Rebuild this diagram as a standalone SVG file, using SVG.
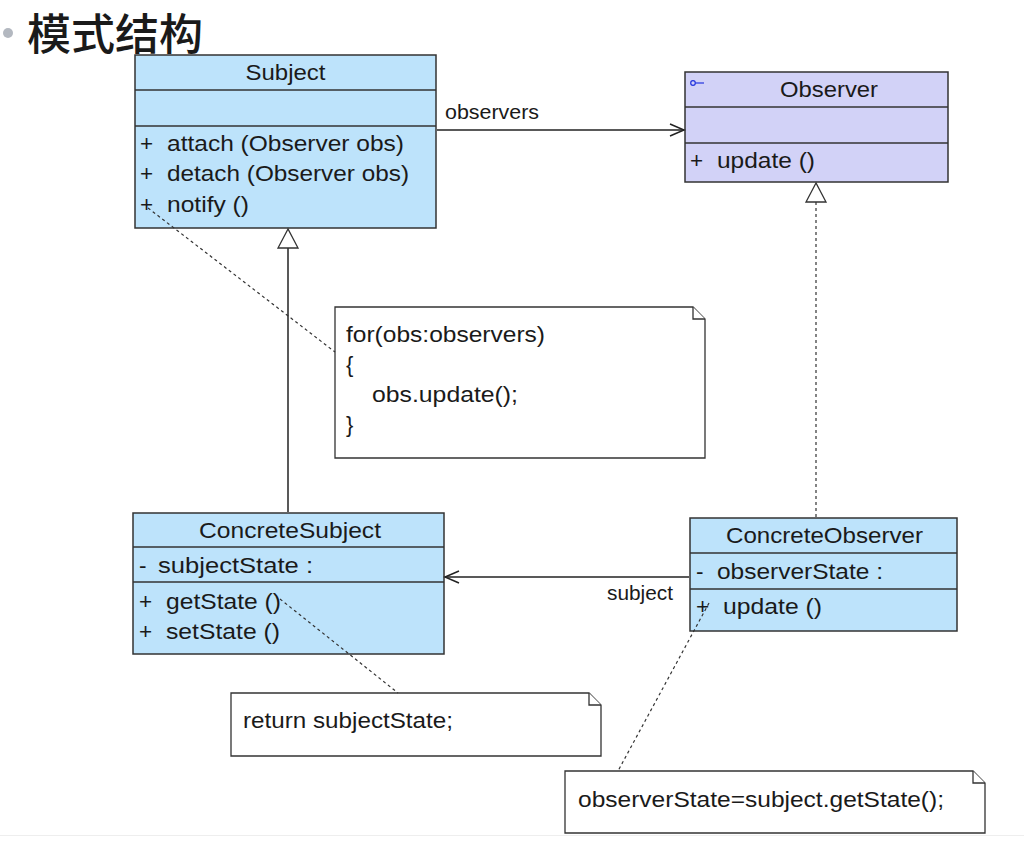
<svg xmlns="http://www.w3.org/2000/svg" width="1024" height="849" viewBox="0 0 1024 849">
<style>
.cls{fill:#bde3fb;stroke:#333;stroke-width:1.5}
.ifc{fill:#d2d2f7;stroke:#333;stroke-width:1.5}
.div{stroke:#333;stroke-width:1.5}
.note{fill:#fff;stroke:#333;stroke-width:1.3}
.t{font-family:"Liberation Sans",Arial,sans-serif;font-size:22.5px;fill:#1a1a1a}
.c{text-anchor:middle}
.lbl{font-family:"Liberation Sans",Arial,sans-serif;font-size:20.5px;fill:#1a1a1a}
.nt{font-family:"Liberation Sans",Arial,sans-serif;font-size:22px;fill:#1a1a1a}
.ln{stroke:#222;stroke-width:1.5;fill:none}
.dash{stroke:#333;stroke-width:1.2;fill:none;stroke-dasharray:3 3}
.tri{fill:#fff;stroke:#333;stroke-width:1.3}
</style>
<rect width="1024" height="849" fill="#fff"/>
<line x1="0" y1="835.5" x2="1024" y2="835.5" stroke="#eeeeee" stroke-width="1"/>
<g id="title">
<circle cx="8" cy="33" r="5" fill="#b3b8c0"/>
<text x="27" y="50" font-family="'Noto Sans CJK SC',sans-serif" font-size="43" font-weight="500" fill="#1a1a1a" textLength="176" lengthAdjust="spacingAndGlyphs">模式结构</text>
</g>
<g id="Subject">
<rect class="cls" x="135" y="55" width="301" height="173"/>
<line class="div" x1="135" y1="90" x2="436" y2="90"/>
<line class="div" x1="135" y1="126" x2="436" y2="126"/>
<text class="t c" x="285.5" y="80" textLength="80" lengthAdjust="spacingAndGlyphs">Subject</text>
<text class="t" x="140" y="151">+</text><text class="t" x="167" y="151" textLength="237" lengthAdjust="spacingAndGlyphs">attach (Observer obs)</text>
<text class="t" x="140" y="181">+</text><text class="t" x="167" y="181" textLength="242" lengthAdjust="spacingAndGlyphs">detach (Observer obs)</text>
<text class="t" x="140" y="212">+</text><text class="t" x="167" y="212" textLength="82" lengthAdjust="spacingAndGlyphs">notify ()</text>
</g>
<g id="Observer">
<rect class="ifc" x="685" y="72" width="263" height="110"/>
<line class="div" x1="685" y1="107" x2="948" y2="107"/>
<line class="div" x1="685" y1="143" x2="948" y2="143"/>
<circle cx="693" cy="83" r="2.3" fill="none" stroke="#2233dd" stroke-width="1.2"/>
<line x1="695.3" y1="83" x2="704" y2="83" stroke="#2233dd" stroke-width="1.2"/>
<text class="t c" x="829" y="97" textLength="98" lengthAdjust="spacingAndGlyphs">Observer</text>
<text class="t" x="690" y="168">+</text><text class="t" x="717" y="168" textLength="98" lengthAdjust="spacingAndGlyphs">update ()</text>
</g>
<g id="note1">
<path class="note" d="M335 307 H693 L705 319 V458 H335 Z"/>
<path class="note" d="M693 307 V319 H705"/>
<text class="nt" x="346" y="342" textLength="199" lengthAdjust="spacingAndGlyphs">for(obs:observers)</text>
<text class="nt" x="346" y="372">{</text>
<text class="nt" x="372" y="402" textLength="146" lengthAdjust="spacingAndGlyphs">obs.update();</text>
<text class="nt" x="346" y="432">}</text>
</g>
<g id="ConcreteSubject">
<rect class="cls" x="133" y="513" width="311" height="141"/>
<line class="div" x1="133" y1="547" x2="444" y2="547"/>
<line class="div" x1="133" y1="582" x2="444" y2="582"/>
<text class="t c" x="290" y="538" textLength="182" lengthAdjust="spacingAndGlyphs">ConcreteSubject</text>
<text class="t" x="139" y="573">-</text><text class="t" x="158" y="573" textLength="155" lengthAdjust="spacingAndGlyphs">subjectState  :</text>
<text class="t" x="139" y="609">+</text><text class="t" x="166" y="609" textLength="115" lengthAdjust="spacingAndGlyphs">getState ()</text>
<text class="t" x="139" y="639">+</text><text class="t" x="166" y="639" textLength="114" lengthAdjust="spacingAndGlyphs">setState ()</text>
</g>
<g id="ConcreteObserver">
<rect class="cls" x="690" y="518" width="267" height="113"/>
<line class="div" x1="690" y1="553" x2="957" y2="553"/>
<line class="div" x1="690" y1="589" x2="957" y2="589"/>
<text class="t c" x="824.5" y="543" textLength="197" lengthAdjust="spacingAndGlyphs">ConcreteObserver</text>
<text class="t" x="696" y="579">-</text><text class="t" x="717" y="579" textLength="166" lengthAdjust="spacingAndGlyphs">observerState  :</text>
<text class="t" x="696" y="614">+</text><text class="t" x="723" y="614" textLength="99" lengthAdjust="spacingAndGlyphs">update ()</text>
</g>
<g id="note2">
<path class="note" d="M231 693 H589 L601 705 V756 H231 Z"/>
<path class="note" d="M589 693 V705 H601"/>
<text class="nt" x="243" y="728" textLength="210" lengthAdjust="spacingAndGlyphs">return subjectState;</text>
</g>
<g id="note3">
<path class="note" d="M565 771 H973 L985 783 V833 H565 Z"/>
<path class="note" d="M973 771 V783 H985"/>
<text class="nt" x="578" y="807" textLength="366" lengthAdjust="spacingAndGlyphs">observerState=subject.getState();</text>
</g>
<g id="connectors">
<path class="ln" d="M437 130 H684"/>
<path class="ln" d="M670 124 L684 130 L670 136"/>
<text class="lbl" x="445" y="119" textLength="94" lengthAdjust="spacingAndGlyphs">observers</text>
<path class="ln" d="M288 248 V512"/>
<path class="tri" d="M288 229 L278 248 L298 248 Z"/>
<path class="dash" d="M816 202 V517"/>
<path class="tri" d="M816 183 L806 202 L826 202 Z"/>
<path class="ln" d="M689 577 H445"/>
<path class="ln" d="M459 571 L445 577 L459 583"/>
<text class="lbl" x="607" y="600" textLength="66" lengthAdjust="spacingAndGlyphs">subject</text>
<path class="dash" d="M148 208 L335 352"/>
<path class="dash" d="M280 599 L398 693"/>
<path class="dash" d="M709 603 L618 771"/>
</g>
</svg>
